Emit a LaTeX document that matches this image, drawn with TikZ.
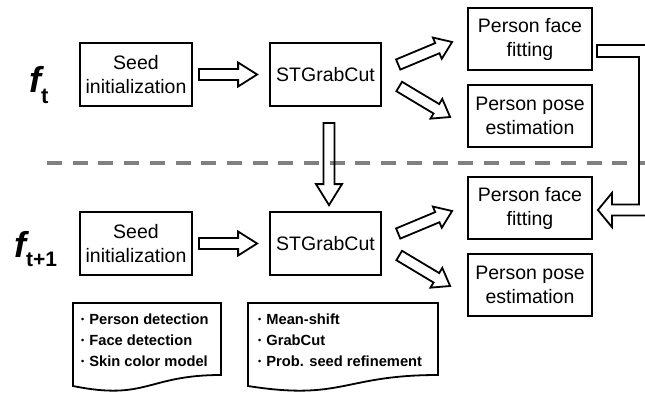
\documentclass[tikz,border=0pt]{standalone}
\usepackage{fontspec}
\setmainfont{Liberation Sans}
\usetikzlibrary{calc}
\newcommand\nbul{{\fontsize{9}{9}\selectfont\raisebox{1.5pt}{•}}\hspace{5pt}}
\newcommand\fatarrow[4]{% start, end, head half width, head length
  \path (#1) coordinate (fa-s) (#2) coordinate (fa-e);
  \path ($(fa-e)!#4pt!(fa-s)$) coordinate (fa-h);
  \draw[fatline] ($(fa-s)!5.5pt!90:(fa-e)$) -- ($(fa-h)!5.5pt!-90:(fa-s)$) -- ($(fa-h)!#3pt!-90:(fa-s)$) -- (fa-e) -- ($(fa-h)!#3pt!90:(fa-s)$) -- ($(fa-h)!5.5pt!90:(fa-s)$) -- ($(fa-s)!5.5pt!-90:(fa-e)$) -- cycle;}
\tikzset{
  box/.style={draw, line width=1.8pt, minimum height=63pt, align=center, inner sep=1pt, font=\fontsize{19.5}{24}\selectfont},
  seedbox/.style={box, minimum width=112pt},
  stbox/.style={box, minimum width=111pt},
  outbox/.style={box, minimum width=124pt, minimum height=62pt},
  fatline/.style={draw, line width=1.8pt, line join=miter},
  notetext/.style={anchor=west, align=left, inner sep=0pt, font=\fontsize{14.7}{21}\selectfont\bfseries},
  sepline/.style={draw=black!50, line width=4pt, dash pattern=on 15pt off 10.7pt},
}
\begin{document}
\begin{tikzpicture}[x=1pt,y=-1pt]
\useasboundingbox (0,0) rectangle (645,392);
\clip (0,0) rectangle (645,392);

% separator
\draw[sepline] (47,163) coordinate (d1) -- (645,163) coordinate (d2);

% frame t
\node[anchor=base west, inner sep=0pt] (ft) at (29,92) {\fontsize{36}{36}\selectfont\bfseries\itshape f\fontsize{22}{22}\selectfont\upshape\raisebox{-11pt}{t}};
\node[seedbox] (seed1) at (136,74.5) {Seed\\initialization};
\node[stbox] (st1) at (325.5,74.5) {STGrabCut};
\node[outbox] (face1) at (530,39) {Person face\\fitting};
\node[outbox] (pose1) at (530,116) {Person pose\\estimation};

% frame t+1
\node[anchor=base west, inner sep=0pt] (ft1) at (14,257) {\fontsize{36}{36}\selectfont\bfseries\itshape f\fontsize{21}{21}\selectfont\upshape\raisebox{-9pt}{t+1}};
\node[seedbox] (seed2) at (136,243.5) {Seed\\initialization};
\node[stbox] (st2) at (325.5,243.5) {STGrabCut};
\node[outbox] (face2) at (530,208) {Person face\\fitting};
\node[outbox] (pose2) at (530,285) {Person pose\\estimation};

% fat arrows
\fatarrow{$(seed1.east)+(6,0)$}{$(st1.west)+(-12,0)$}{12}{19}
\fatarrow{$(seed2.east)+(6,0)$}{$(st2.west)+(-12,0)$}{12}{19}
\fatarrow{$(st1.east)+(16.3,-10)$}{$(face1.west)+(-15,3)$}{11.5}{16}
\fatarrow{$(st1.east)+(17.3,12)$}{$(pose1.west)+(-17,1)$}{11.5}{16}
\fatarrow{$(st2.east)+(16.3,-10)$}{$(face2.west)+(-15,3)$}{11.5}{16}
\fatarrow{$(st2.east)+(17.3,12)$}{$(pose2.west)+(-17,1)$}{11.5}{16}
\fatarrow{$(st1.south)+(3.5,16)$}{$(st2.north)+(3.5,-6)$}{13}{21}

% feedback arrow
\coordinate (fbs) at ($(face1.east)+(4,12)$);
\coordinate (fbt) at ($(face2.east)+(5,2)$);
\draw[fatline] ($(fbs)+(0,-6)$) -- ($(fbs)+(56,-6)$) |- ($(fbt)+(14,5.5)$) -- ($(fbt)+(14,17)$) -- (fbt) -- ($(fbt)+(14,-17)$) -- ($(fbt)+(14,-5.5)$) -| ($(fbs)+(42,6)$) -- ($(fbs)+(0,6)$) -- cycle;

% notes
\draw[fatline] (73,303) -- (221,303) -- (221,375) .. controls (147,375) and (147,401) .. (73,386) -- cycle;
\node[notetext] (note1) at (81,340) {\nbul Person detection\\\nbul Face detection\\\nbul Skin color model};
\draw[fatline] (248,303) -- (438,303) -- (438,375) .. controls (343,375) and (343,401) .. (248,386) -- cycle;
\node[notetext] (note2) at (258,340) {\nbul Mean-shift\\\nbul GrabCut\\\nbul Prob. seed refinement};
\end{tikzpicture}
\end{document}
